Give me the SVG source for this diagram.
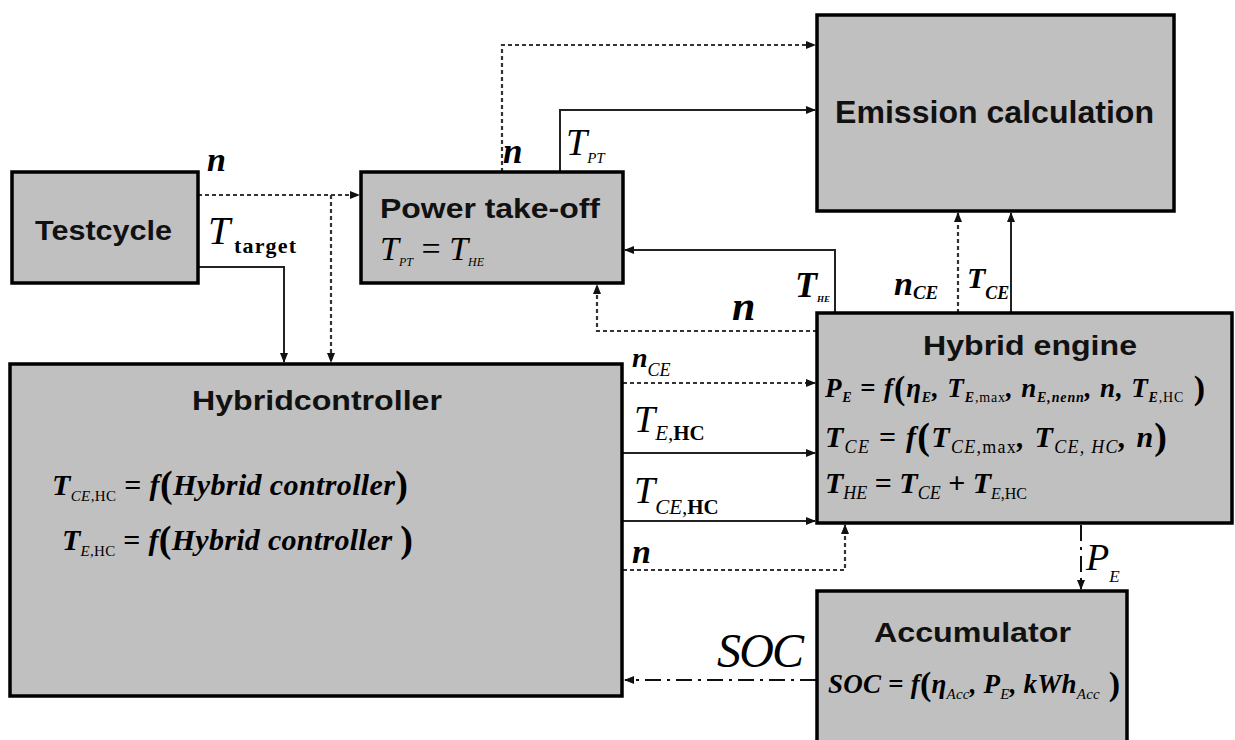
<svg xmlns="http://www.w3.org/2000/svg" width="1235" height="740" viewBox="0 0 1235 740">
<style>
.box{fill:#c0c0c0;stroke:#000;stroke-width:3.5}
.t{font-family:"Liberation Sans",Arial,sans-serif;font-weight:bold;fill:#111}
.m{font-family:"Liberation Serif","Times New Roman",serif;font-style:italic;fill:#000}
.b{font-weight:bold}
.r{font-style:normal}
.sol{fill:none;stroke:#222;stroke-width:2}
.das{fill:none;stroke:#333;stroke-width:2.2;stroke-dasharray:4,3}
.dd{fill:none;stroke:#111;stroke-width:2;stroke-dasharray:16,6,3,6}
</style>
<defs>
<marker id="ah" markerUnits="userSpaceOnUse" markerWidth="10" markerHeight="10" refX="9" refY="5" orient="auto">
<path d="M0,1 L10,5 L0,9 Z" fill="#111"/>
</marker>
</defs>

<g id="connectors">
<path class="das" d="M198,195 H359" marker-end="url(#ah)"/>
<path class="das" d="M331,195 V362" marker-end="url(#ah)"/>
<path class="sol" d="M198,267 H284 V362" marker-end="url(#ah)"/>
<path class="das" d="M502,172 V45 H815" marker-end="url(#ah)"/>
<path class="sol" d="M560,172 V110 H815" marker-end="url(#ah)"/>
<path class="sol" d="M835,313 V250 H625" marker-end="url(#ah)"/>
<path class="das" d="M817,331 H597 V285" marker-end="url(#ah)"/>
<path class="das" d="M958,313 V213" marker-end="url(#ah)"/>
<path class="sol" d="M1011,313 V213" marker-end="url(#ah)"/>
<path class="das" d="M623,383 H815" marker-end="url(#ah)"/>
<path class="sol" d="M623,453 H815" marker-end="url(#ah)"/>
<path class="sol" d="M623,521 H815" marker-end="url(#ah)"/>
<path class="das" d="M623,570 H845 V525" marker-end="url(#ah)"/>
<path class="dd" d="M1081,525 V589" marker-end="url(#ah)"/>
<path class="dd" d="M816,680 H625" marker-end="url(#ah)"/>

<text class="m b" x="207" y="171" font-size="34">n</text>
<text class="m" x="208" y="244" font-size="40">T</text>
<text class="m b r" x="234" y="253" font-size="22" textLength="62">target</text>
<text class="m b" x="503" y="163" font-size="35">n</text>
<text class="m" x="566" y="155" font-size="38">T<tspan font-size="15" dy="8">PT</tspan></text>
<text class="m b" x="732" y="320" font-size="42">n</text>
<text class="m b" x="795" y="297" font-size="36">T<tspan font-size="9" dy="5">HE</tspan></text>
<text class="m b" x="894" y="295" font-size="34">n<tspan font-size="19" dy="4">CE</tspan></text>
<text class="m b" x="967" y="288" font-size="30">T<tspan font-size="18" dy="11">CE</tspan></text>
<text class="m b" x="632" y="367" font-size="28">n<tspan font-size="18" dy="9" style="font-style:italic;font-weight:normal">CE</tspan></text>
<text class="m" x="634" y="432" font-size="38">T<tspan font-size="21" dy="8">E,</tspan><tspan font-size="21" class="r b">HC</tspan></text>
<text class="m" x="634" y="503" font-size="38">T<tspan font-size="21" dy="11">CE,</tspan><tspan font-size="21" class="r b">HC</tspan></text>
<text class="m b" x="632" y="563" font-size="34">n</text>
<text class="m" x="1086" y="570" font-size="38">P<tspan font-size="17" dy="12">E</tspan></text>
<text class="m" x="717" y="667" font-size="48" textLength="87">SOC</text>
</g>

<g id="testcycle">
<rect class="box" x="12" y="172" width="186" height="111"/>
<text class="t" x="35" y="240" font-size="28" textLength="137" lengthAdjust="spacingAndGlyphs">Testcycle</text>
</g>

<g id="power-take-off">
<rect class="box" x="361" y="172" width="262" height="111"/>
<text class="t" x="380" y="218" font-size="28" textLength="220" lengthAdjust="spacingAndGlyphs">Power take-off</text>
<text class="m" x="380" y="260" font-size="34">T<tspan font-size="12" dy="6">PT</tspan><tspan dy="-6" class="r"> = </tspan>T<tspan font-size="12" dy="6">HE</tspan></text>
</g>

<g id="emission-calculation">
<rect class="box" x="817" y="15" width="357" height="196"/>
<text class="t" x="835" y="123" font-size="31" textLength="319" lengthAdjust="spacingAndGlyphs">Emission calculation</text>
</g>

<g id="hybrid-engine">
<rect class="box" x="817" y="313" width="415" height="210"/>
<text class="t" x="923" y="355" font-size="28" textLength="214" lengthAdjust="spacingAndGlyphs">Hybrid engine</text>
<text class="m b" x="825" y="397" font-size="27" textLength="380" lengthAdjust="spacing">P<tspan font-size="14" dy="5">E</tspan><tspan dy="-5" class="r"> = </tspan>f<tspan class="r" font-size="34" dy="2">(</tspan><tspan dy="-2">η</tspan><tspan font-size="14" dy="5">E</tspan><tspan dy="-5">, T</tspan><tspan font-size="14" dy="5">E</tspan><tspan font-size="14" class="r" style="font-weight:normal">,max</tspan><tspan dy="-5">, n</tspan><tspan font-size="14" dy="5">E,nenn</tspan><tspan dy="-5">, n, T</tspan><tspan font-size="14" dy="5">E</tspan><tspan font-size="14" class="r" style="font-weight:normal">,HC</tspan><tspan class="r" font-size="34" dy="-3"> )</tspan></text>
<text class="m b" x="825" y="447" font-size="30" textLength="342" lengthAdjust="spacing">T<tspan font-size="18" dy="6" style="font-weight:normal">CE</tspan><tspan dy="-6" class="r"> = </tspan>f<tspan class="r" font-size="38" dy="2">(</tspan><tspan dy="-2">T</tspan><tspan font-size="18" dy="6" style="font-weight:normal">CE</tspan><tspan font-size="18" class="r" style="font-weight:normal">,max</tspan><tspan dy="-6">, T</tspan><tspan font-size="18" dy="6" style="font-weight:normal">CE, HC</tspan><tspan dy="-6">, n</tspan><tspan class="r" font-size="38" dy="2">)</tspan></text>
<text class="m b" x="825" y="493" font-size="30" textLength="202" lengthAdjust="spacing">T<tspan font-size="18" dy="6" style="font-weight:normal">HE</tspan><tspan dy="-6" class="r"> = </tspan>T<tspan font-size="18" dy="6" style="font-weight:normal">CE</tspan><tspan dy="-6" class="r"> + </tspan>T<tspan font-size="16" dy="6" style="font-weight:normal">E</tspan><tspan font-size="16" class="r" style="font-weight:normal">,HC</tspan></text>
</g>

<g id="hybridcontroller">
<rect class="box" x="10" y="364" width="612" height="332"/>
<text class="t" x="192" y="410" font-size="28" textLength="250" lengthAdjust="spacingAndGlyphs">Hybridcontroller</text>
<text class="m b" x="52" y="495" font-size="30" textLength="356" lengthAdjust="spacing">T<tspan font-size="15" dy="6" style="font-weight:normal">CE</tspan><tspan font-size="15" class="r" style="font-weight:normal">,HC</tspan><tspan dy="-6" class="r"> = </tspan>f<tspan class="r" font-size="38" dy="2">(</tspan><tspan dy="-2">Hybrid controller</tspan><tspan class="r" font-size="38" dy="2">)</tspan></text>
<text class="m b" x="62" y="550" font-size="30" textLength="351" lengthAdjust="spacing">T<tspan font-size="15" dy="6" style="font-weight:normal">E</tspan><tspan font-size="15" class="r" style="font-weight:normal">,HC</tspan><tspan dy="-6" class="r"> = </tspan>f<tspan class="r" font-size="38" dy="2">(</tspan><tspan dy="-2">Hybrid  controller </tspan><tspan class="r" font-size="38" dy="2">)</tspan></text>
</g>

<g id="accumulator">
<rect class="box" x="817" y="591" width="310" height="170"/>
<text class="t" x="874" y="642" font-size="28" textLength="197" lengthAdjust="spacingAndGlyphs">Accumulator</text>
<text class="m b" x="828" y="693" font-size="27" textLength="292" lengthAdjust="spacing">SOC<tspan class="r"> = </tspan>f<tspan class="r" font-size="34" dy="2">(</tspan><tspan dy="-2">η</tspan><tspan font-size="15" dy="6" style="font-weight:normal">Acc</tspan><tspan dy="-6">, P</tspan><tspan font-size="15" dy="6" style="font-weight:normal">E</tspan><tspan dy="-6">, kWh</tspan><tspan font-size="15" dy="6" style="font-weight:normal">Acc</tspan><tspan class="r" font-size="34" dy="-4"> )</tspan></text>
</g>
</svg>
